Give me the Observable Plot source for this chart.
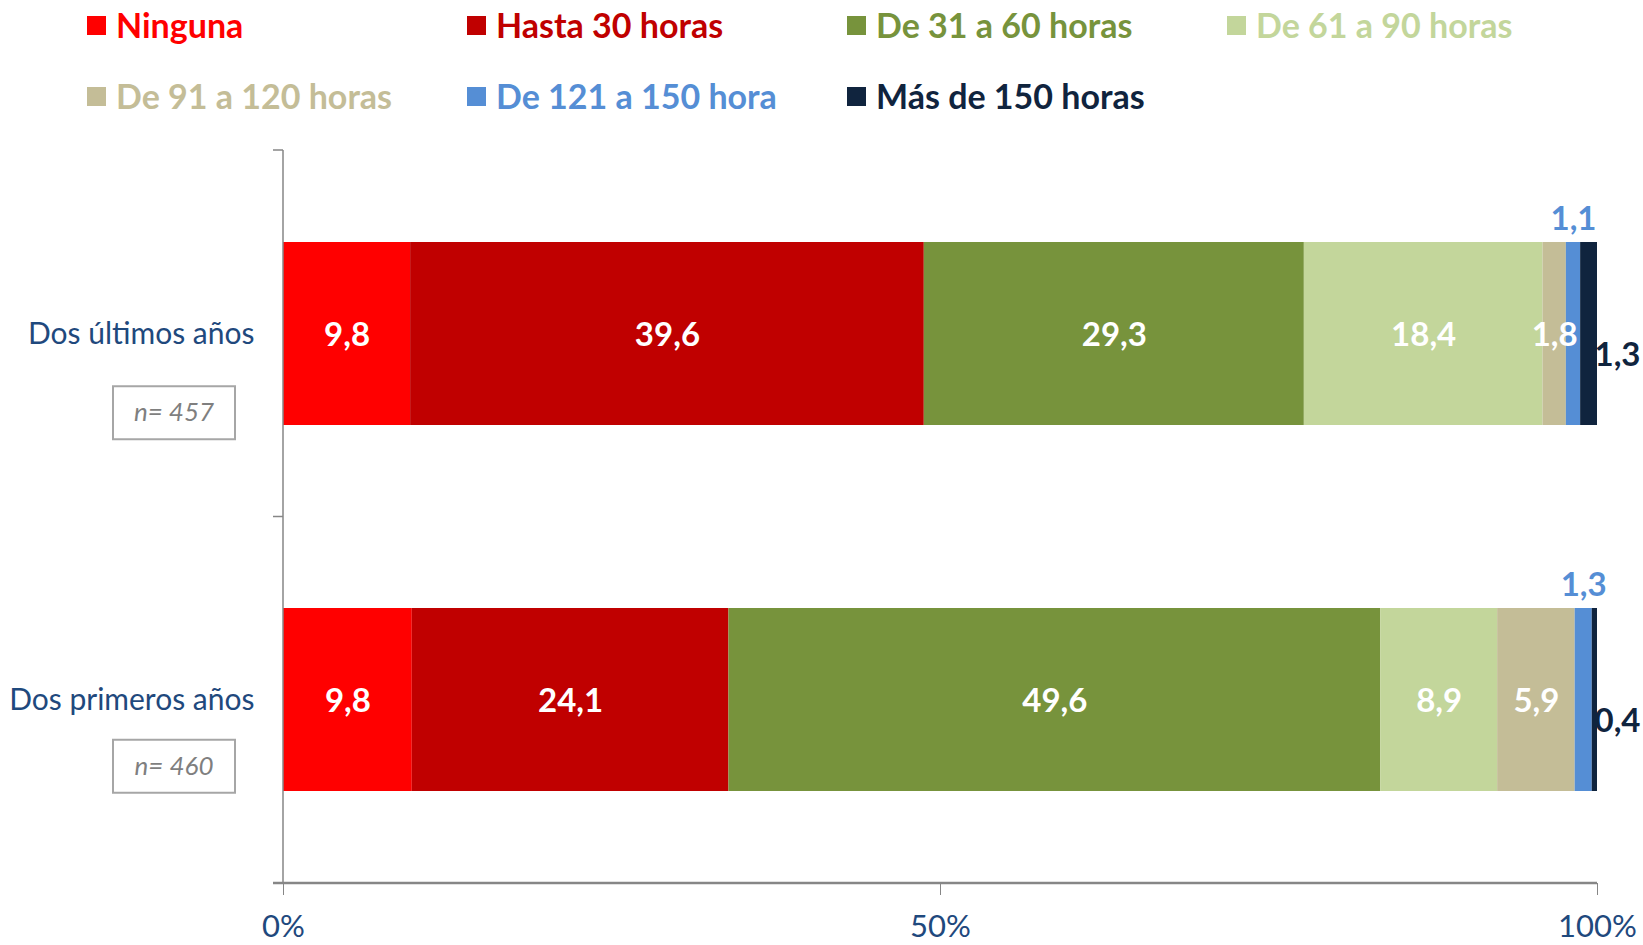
<!DOCTYPE html>
<html>
<head>
<meta charset="utf-8">
<script src="https://cdn.jsdelivr.net/npm/d3@7"></script>
<script src="https://cdn.jsdelivr.net/npm/@observablehq/plot@0.6"></script>
<style>
  body { margin: 0; background: #fff; font-family: Lato, "Open Sans", sans-serif; }
  #legend { position: relative; width: 1643px; height: 130px; }
  .item { position: absolute; display: flex; align-items: center; font-weight: bold; font-size: 34px; line-height: 40px; white-space: nowrap; }
  .sw { width: 19px; height: 19px; margin-right: 10px; }
</style>
</head>
<body>
<div id="legend"></div>
<div id="chart"></div>
<script>
const categories = ["Dos últimos años", "Dos primeros años"];
const seriesNames = ["Ninguna", "Hasta 30 horas", "De 31 a 60 horas", "De 61 a 90 horas", "De 91 a 120 horas", "De 121 a 150 hora", "Más de 150 horas"];
const seriesColors = ["#FF0000", "#C00000", "#77933C", "#C3D69B", "#C4BD97", "#558ED5", "#10243E"];
const valuesUltimos = [9.8, 39.6, 29.3, 18.4, 1.8, 1.1, 1.3];
const valuesPrimeros = [9.8, 24.1, 49.6, 8.9, 5.9, 1.3, 0.4];
const sampleSizes = [457, 460];
const xTicks = [0, 0.5, 1];

const seriesValues = [valuesUltimos, valuesPrimeros];
const rows = categories.flatMap((cat, i) => seriesNames.map((series, j) => ({cat, series, idx: j, value: seriesValues[i][j]})));
const fmt = v => d3.format(".1f")(v).replace(".", ",");

// Legend
const legend = document.getElementById("legend");
seriesNames.forEach((s, i) => {
  const it = document.createElement("div");
  it.className = "item";
  it.style.left = (87 + (i % 4) * 380) + "px";
  it.style.top = (5 + Math.floor(i / 4) * 71) + "px";
  it.style.color = seriesColors[i];
  const sw = document.createElement("div");
  sw.className = "sw";
  sw.style.background = seriesColors[i];
  it.appendChild(sw);
  it.appendChild(document.createTextNode(s));
  legend.appendChild(it);
});

const grey = "#868686";
const axisColor = "#1F497D";
const boxOffsets = [79, 66];

function frameMark(index, scales, values, dims) {
  const g = d3.create("svg:g");
  const top = dims.marginTop, bottom = dims.height - dims.marginBottom;
  const x = scales.x;
  const x0 = x(0), x1 = x(1);
  const step = (bottom - top) / categories.length;
  g.append("line").attr("x1", x0).attr("x2", x0).attr("y1", top).attr("y2", bottom)
    .attr("stroke", grey).attr("stroke-width", 1.5);
  for (let k = 0; k <= categories.length; k++) {
    const yy = top + k * step;
    g.append("line").attr("x1", x0 - 10).attr("x2", x0).attr("y1", yy).attr("y2", yy)
      .attr("stroke", grey).attr("stroke-width", 1.5);
  }
  g.append("line").attr("x1", x0 - 10).attr("x2", x1).attr("y1", bottom).attr("y2", bottom)
    .attr("stroke", grey).attr("stroke-width", 2.5);
  categories.forEach((c, i) => {
    const cy = top + step * (i + 0.5) + boxOffsets[i];
    const cx = x0 - 109;
    g.append("rect").attr("x", cx - 61).attr("y", cy - 26).attr("width", 122).attr("height", 53)
      .attr("fill", "none").attr("stroke", "#A6A6A6").attr("stroke-width", 2);
    g.append("text").attr("x", cx).attr("y", cy).attr("dy", "0.35em")
      .attr("text-anchor", "middle").attr("font-style", "italic").attr("font-size", 26)
      .attr("font-family", "Lato, sans-serif").attr("fill", "#7F7F7F")
      .text("n= " + sampleSizes[i]);
  });
  return g.node();
}

const stackOpts = {x: "value", y: "cat", z: "series", offset: "normalize"};

const chart = Plot.plot({
  width: 1643,
  height: 815,
  marginTop: 20,
  marginBottom: 62,
  marginLeft: 283,
  marginRight: 46,
  style: {fontFamily: "Lato, sans-serif", background: "#fff"},
  x: {domain: [0, 1], label: null},
  y: {domain: categories, label: null, paddingInner: 0.5, paddingOuter: 0.25},
  color: {domain: seriesNames, range: seriesColors},
  marks: [
    Plot.barX(rows, Plot.stackX({...stackOpts, fill: "series"})),
    Plot.text(rows, Plot.stackX({...stackOpts,
      text: d => d.idx < 5 ? fmt(d.value) : null,
      fill: "white", fontWeight: "bold", fontSize: 33, dy: 1})),
    Plot.text(rows, Plot.stackX({...stackOpts,
      text: d => d.idx === 5 ? fmt(d.value) : null,
      fill: seriesColors[5], fontWeight: "bold", fontSize: 33, dy: -115})),
    Plot.text(rows, Plot.stackX2({...stackOpts,
      text: d => d.idx === 6 ? fmt(d.value) : null,
      fill: seriesColors[6], fontWeight: "bold", fontSize: 33, dx: 20, dy: 21})),
    frameMark,
    Plot.axisX({ticks: xTicks, tickFormat: d3.format(".0%"), tickSize: 12, tickPadding: 19,
      stroke: grey, fill: axisColor, fontSize: 31, label: null}),
    Plot.axisY({tickSize: 0, tickPadding: 29, fill: axisColor, fontSize: 30, label: null})
  ]
});
document.getElementById("chart").appendChild(chart);
</script>
</body>
</html>
